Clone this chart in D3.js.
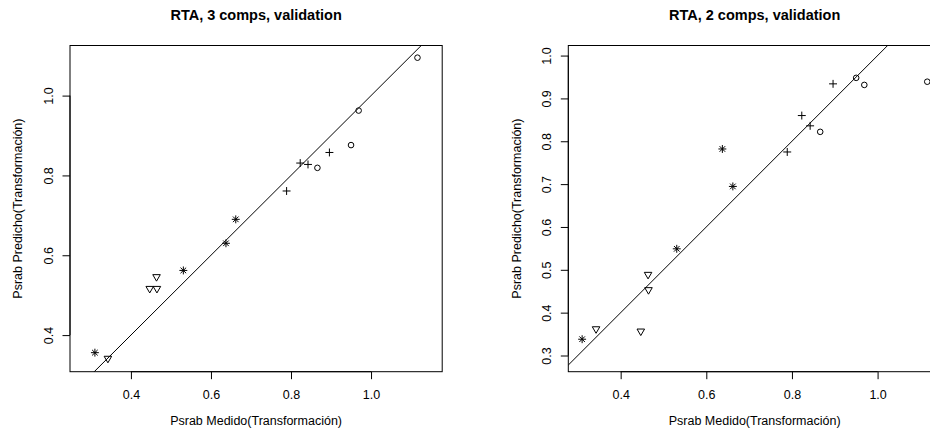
<!DOCTYPE html>
<html>
<head>
<meta charset="utf-8">
<script src="https://cdn.jsdelivr.net/npm/d3@7"></script>
<style>
  html, body { margin: 0; padding: 0; background: #fff; }
  svg { display: block; font-family: "Liberation Sans", Arial, Helvetica, sans-serif; }
</style>
</head>
<body>
<svg id="chart" width="930" height="437"></svg>
<script>
// Measured values (shared by both panels)
const measured = [1.116, 0.969, 0.950, 0.866, 0.823, 0.8425, 0.896, 0.789,
                  0.662, 0.6375, 0.531, 0.310, 0.464, 0.465, 0.447, 0.3425];
// Plotting symbol of each sample (R pch 1, 3, 8, 6)
const symbols = ["circle", "circle", "circle", "circle",
                 "plus", "plus", "plus", "plus",
                 "asterisk", "asterisk", "asterisk", "asterisk",
                 "triangle", "triangle", "triangle", "triangle"];
// Predicted values, 3-component model
const predicted3 = [1.095, 0.9625, 0.876, 0.819, 0.831, 0.8275, 0.8575, 0.761,
                    0.690, 0.630, 0.562, 0.356, 0.546, 0.5165, 0.5165, 0.3415];
// Predicted values, 2-component model
const predicted2 = [0.939, 0.9315, 0.948, 0.822, 0.860, 0.836, 0.934, 0.775,
                    0.6946, 0.782, 0.549, 0.338, 0.489, 0.4533, 0.3567, 0.362];

const titles = ["RTA, 3 comps, validation", "RTA, 2 comps, validation"];
const xLabel = "Psrab Medido(Transformación)";
const yLabel = "Psrab Predicho(Transformación)";

// Axis limits (equal aspect ratio per panel)
const xLimits = [[0.2478, 1.1778], [0.2777, 1.1481]];
const yLimits = [[0.3083, 1.1255], [0.2622, 1.0235]];
const xTickValues = [[0.4, 0.6, 0.8, 1.0], [0.4, 0.6, 0.8, 1.0]];
const yTickValues = [[0.4, 0.6, 0.8, 1.0], [0.3, 0.4, 0.5, 0.6, 0.7, 0.8, 0.9, 1.0]];

const svg = d3.select("#chart");

// Plot regions in pixels
const panels = [
  { left: 70,    right: 442.2, top: 45.5, bottom: 371.7 },
  { left: 568.3, right: 941,   top: 45.5, bottom: 371.7 }
];

const RAD = 2.8;
const symbolTypes = {
  circle: { draw(ctx, r) { ctx.moveTo(r, 0); ctx.arc(0, 0, r, 0, 2 * Math.PI); } },
  plus: { draw(ctx, r) {
    const a = Math.SQRT2 * r;
    ctx.moveTo(-a, 0); ctx.lineTo(a, 0);
    ctx.moveTo(0, -a); ctx.lineTo(0, a);
  } },
  asterisk: { draw(ctx, r) {
    const a = Math.SQRT2 * r;
    ctx.moveTo(-a, 0); ctx.lineTo(a, 0);
    ctx.moveTo(0, -a); ctx.lineTo(0, a);
    ctx.moveTo(-r, -r); ctx.lineTo(r, r);
    ctx.moveTo(-r, r); ctx.lineTo(r, -r);
  } },
  triangle: { draw(ctx, r) {
    const t0 = Math.sqrt(4 * Math.PI / (3 * Math.sqrt(3)));
    const h = t0 * r, w = t0 * Math.sqrt(3) / 2 * r, b = t0 / 2 * r;
    ctx.moveTo(0, h); ctx.lineTo(w, -b); ctx.lineTo(-w, -b); ctx.closePath();
  } }
};

const predictedSets = [predicted3, predicted2];

panels.forEach((p, i) => {
  const x = d3.scaleLinear().domain(xLimits[i]).range([p.left, p.right]);
  const y = d3.scaleLinear().domain(yLimits[i]).range([p.bottom, p.top]);
  const g = svg.append("g");

  const clipId = "clip" + i;
  g.append("clipPath").attr("id", clipId)
    .append("rect").attr("x", p.left).attr("y", p.top)
    .attr("width", p.right - p.left).attr("height", p.bottom - p.top);

  // Title
  g.append("text")
    .attr("x", (p.left + p.right) / 2).attr("y", 15).attr("dy", "0.35em")
    .attr("text-anchor", "middle").attr("font-weight", "bold").attr("font-size", 14.5)
    .text(titles[i]);

  // Bottom axis
  const xAxis = d3.axisBottom(x).tickValues(xTickValues[i]).tickFormat(d3.format(".1f"))
    .tickSize(7.5).tickPadding(8);
  const gx = g.append("g").attr("transform", `translate(0,${p.bottom})`).call(xAxis);
  gx.select(".domain").attr("d", `M${x(xTickValues[i][0])},0H${x(xTickValues[i][xTickValues[i].length - 1])}`);
  gx.selectAll("text").attr("font-size", 12.5).attr("font-family", null).attr("fill", "#000")
    .attr("y", null).attr("dy", null)
    .attr("transform", "translate(0,23.3)").attr("dominant-baseline", "central");

  // Left axis
  const yAxis = d3.axisLeft(y).tickValues(yTickValues[i]).tickFormat(d3.format(".1f"))
    .tickSize(7.5);
  const gy = g.append("g").attr("transform", `translate(${p.left},0)`).call(yAxis);
  gy.select(".domain").attr("d", `M0,${y(yTickValues[i][0])}V${y(yTickValues[i][yTickValues[i].length - 1])}`);
  gy.selectAll("text").attr("font-size", 12.5).attr("font-family", null).attr("fill", "#000")
    .attr("x", null).attr("dy", null)
    .attr("text-anchor", "middle")
    .attr("transform", "translate(-21,0) rotate(-90)")
    .attr("dominant-baseline", "central");
  [gx, gy].forEach(a => {
    a.attr("font-family", null);
    a.selectAll("line, path").attr("stroke", "#000").attr("stroke-width", 1);
  });

  // Axis titles
  g.append("text")
    .attr("x", (p.left + p.right) / 2).attr("y", 421).attr("dy", "0.35em")
    .attr("text-anchor", "middle").attr("font-size", 12.5)
    .text(xLabel);
  g.append("text")
    .attr("transform", `translate(${p.left - 52},${(p.top + p.bottom) / 2}) rotate(-90)`)
    .attr("dy", "0.35em")
    .attr("text-anchor", "middle").attr("font-size", 12.5)
    .text(yLabel);

  // Plot box
  g.append("rect")
    .attr("x", p.left).attr("y", p.top)
    .attr("width", p.right - p.left).attr("height", p.bottom - p.top)
    .attr("fill", "none").attr("stroke", "#000").attr("stroke-width", 1);

  const inner = g.append("g").attr("clip-path", `url(#${clipId})`);

  // Identity line y = x
  const lo = Math.min(xLimits[i][0], yLimits[i][0]);
  const hi = Math.max(xLimits[i][1], yLimits[i][1]);
  inner.append("line")
    .attr("x1", x(lo)).attr("y1", y(lo))
    .attr("x2", x(hi)).attr("y2", y(hi))
    .attr("stroke", "#000").attr("stroke-width", 1);

  // Points
  const pts = measured.map((m, k) => ({ m, p: predictedSets[i][k], s: symbols[k] }));
  inner.selectAll("path.pt").data(pts).enter().append("path")
    .attr("class", "pt")
    .attr("transform", d => `translate(${x(d.m)},${y(d.p)})`)
    .attr("d", d => d3.symbol().type(symbolTypes[d.s]).size(RAD)())
    .attr("fill", "none").attr("stroke", "#000").attr("stroke-width", 1);
});
</script>
</body>
</html>
